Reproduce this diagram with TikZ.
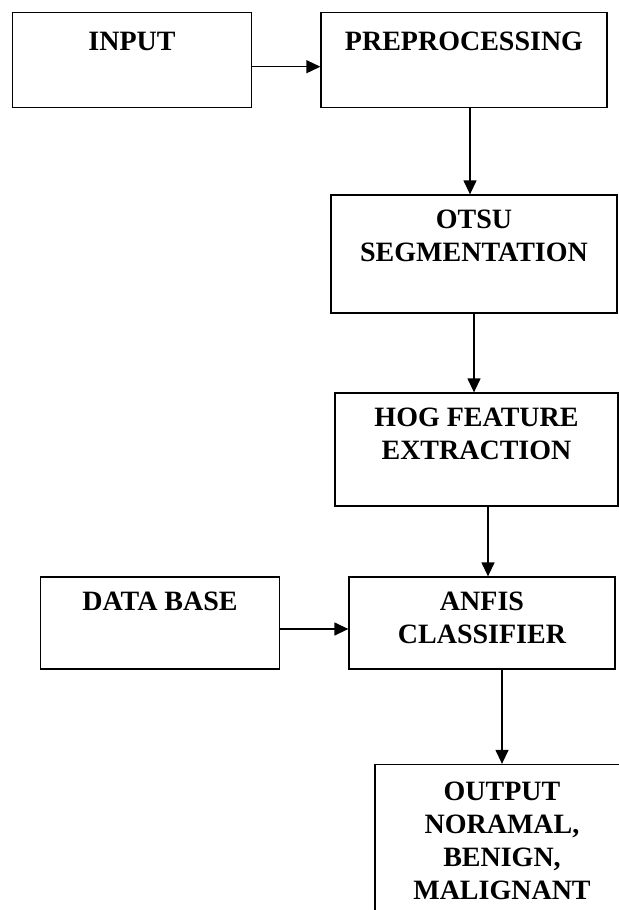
\documentclass[tikz,border=0pt]{standalone}
\usepackage{fontspec}
\setmainfont{Liberation Serif}
\usetikzlibrary{arrows.meta, positioning}

\begin{document}
\begin{tikzpicture}[x=0.5pt, y=-0.5pt, >={Triangle[length=7pt, width=6.5pt]},
        box/.style={draw, line width=0.65pt, inner sep=0pt},
        txt/.style={font=\fontsize{14}{16.5}\selectfont\bfseries, align=center, inner sep=0pt},
        link/.style={->, line width=0.65pt}]
        \useasboundingbox (0,0) rectangle (619,910);
        % blocks
        \node[box, minimum width=119.5pt, minimum height=47.5pt] (input) at (132,60) {};
        \node[box, minimum width=143pt, minimum height=47.5pt] (prep) at (464,60) {};
        \node[box, minimum width=143pt, minimum height=59pt] (otsu) at (474,254) {};
        \node[box, minimum width=141.5pt, minimum height=56.5pt] (hog) at (476.5,449.5) {};
        \node[box, minimum width=119.5pt, minimum height=46pt] (db) at (160,623) {};
        \node[box, minimum width=133pt, minimum height=46pt] (anfis) at (482,623) {};
        \node[box, minimum width=127pt, minimum height=97.5pt] (out) at (502,862) {};
        % labels
        \node[txt, below=10pt of input.north] (inputtxt) {INPUT};
        \node[txt, below=10pt of prep.north] (preptxt) {PREPROCESSING};
        \node[txt, below=7.5pt of otsu.north] (otsutxt) {OTSU\\SEGMENTATION};
        \node[txt, below=7.5pt of hog.north] (hogtxt) {HOG FEATURE\\EXTRACTION};
        \node[txt, below=7.5pt of db.north] (dbtxt) {DATA BASE};
        \node[txt, below=7.5pt of anfis.north] (anfistxt) {ANFIS\\CLASSIFIER};
        \node[txt, below=9pt of out.north] (outtxt) {OUTPUT\\NORAMAL,\\BENIGN,\\MALIGNANT};
        % arrows
        \draw[link] ([yshift=-3.35pt]input.east) -- ([yshift=-3.35pt]input.east -| prep.west);
        \draw[link] ([xshift=3pt]prep.south) -- ([xshift=3pt]prep.south |- otsu.north);
        \draw[link] (otsu.south) -- (otsu.south |- hog.north);
        \draw[link] ([xshift=5.75pt]hog.south) -- ([xshift=5.75pt]hog.south |- anfis.north);
        \draw[link] ([yshift=-3pt]db.east) -- ([yshift=-3pt]db.east -| anfis.west);
        \draw[link] ([xshift=10pt]anfis.south) -- ([xshift=10pt]anfis.south |- out.north);
    \end{tikzpicture}
\end{document}
